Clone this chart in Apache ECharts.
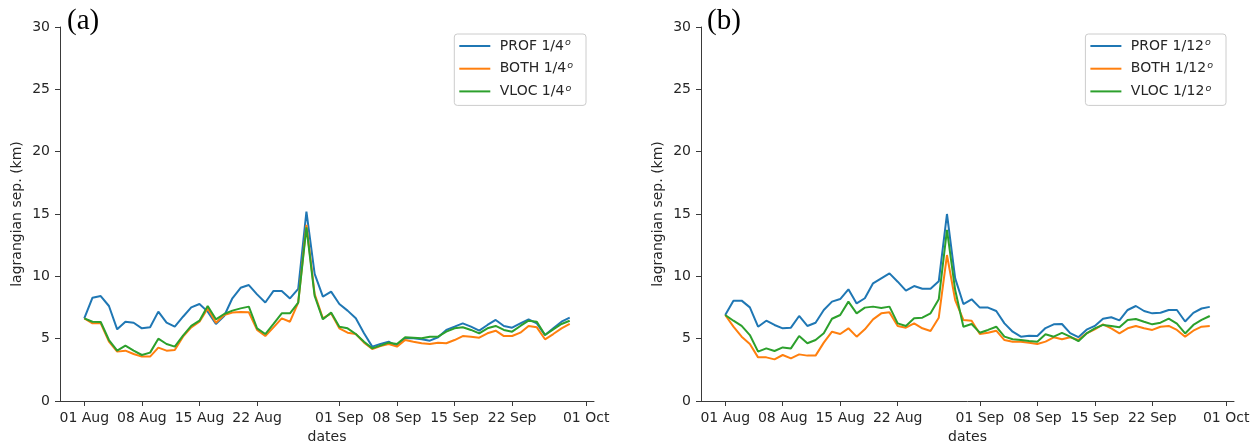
<!DOCTYPE html>
<html>
<head>
<meta charset="utf-8">
<script src="https://cdn.jsdelivr.net/npm/echarts@6/dist/echarts.min.js"></script>
<style>html,body{margin:0;padding:0;background:#fff}#c{width:1250px;height:444px}</style>
</head>
<body>
<div id="c"></div>
<script>
// ---- data ----
const startDate = Date.UTC(2019, 7, 1);   // 01 Aug
const DAY = 86400000;
const nDays = 60;                          // 01 Aug .. 29 Sep, daily
const dates = [];
for (let i = 0; i < nDays; i++) dates.push(startDate + i * DAY);

const tickLabels = ['01 Aug', '08 Aug', '15 Aug', '22 Aug', '01 Sep', '08 Sep', '15 Sep', '22 Sep', '01 Oct'];
const tickDates = [Date.UTC(2019,7,1), Date.UTC(2019,7,8), Date.UTC(2019,7,15), Date.UTC(2019,7,22),
                   Date.UTC(2019,8,1), Date.UTC(2019,8,8), Date.UTC(2019,8,15), Date.UTC(2019,8,22),
                   Date.UTC(2019,9,1)];
const yTicks = [0, 5, 10, 15, 20, 25, 30];

const namesA = ['PROF 1/4', 'BOTH 1/4', 'VLOC 1/4'];
const namesB = ['PROF 1/12', 'BOTH 1/12', 'VLOC 1/12'];

const profA = [6.63,8.29,8.42,7.62,5.75,6.36,6.28,5.83,5.91,7.17,6.28,5.96,6.76,7.51,7.78,7.17,6.18,6.82,8.24,9.08,
               9.30,8.55,7.90,8.83,8.83,8.23,9.00,15.19,10.19,8.37,8.77,7.78,7.25,6.63,5.43,4.36,4.57,4.76,4.41,5.03,
               5.03,4.95,4.84,5.11,5.70,5.96,6.23,5.96,5.64,6.10,6.50,6.02,5.88,6.23,6.55,6.23,5.29,5.83,6.36,6.68];
const bothA = [6.63,6.23,6.23,4.76,3.96,4.04,3.77,3.56,3.56,4.28,4.04,4.09,5.16,5.91,6.36,7.43,6.28,6.90,7.09,7.14,
               7.11,5.70,5.21,5.91,6.63,6.36,7.89,14.12,8.58,6.63,7.03,5.83,5.48,5.37,4.68,4.17,4.41,4.57,4.36,4.90,
               4.76,4.63,4.57,4.68,4.63,4.89,5.21,5.16,5.08,5.43,5.64,5.21,5.21,5.48,6.02,5.91,4.95,5.37,5.83,6.18];
const vlocA = [6.63,6.36,6.34,4.89,4.04,4.44,4.04,3.69,3.88,5.00,4.57,4.36,5.24,6.02,6.44,7.62,6.55,6.98,7.25,7.43,
               7.57,5.83,5.37,6.18,7.03,7.03,7.89,13.93,8.42,6.55,7.09,5.96,5.83,5.37,4.76,4.22,4.44,4.68,4.57,5.11,
               5.08,5.03,5.16,5.16,5.56,5.83,5.91,5.70,5.43,5.83,6.02,5.70,5.56,6.02,6.44,6.36,5.29,5.75,6.18,6.44];

const profB = [6.90,8.05,8.05,7.51,5.96,6.44,6.10,5.83,5.88,6.82,6.02,6.28,7.30,7.97,8.18,8.96,7.83,8.24,9.44,9.84,
               10.24,9.57,8.85,9.22,9.01,9.01,9.60,15.00,9.84,7.78,8.16,7.49,7.49,7.22,6.23,5.56,5.16,5.24,5.21,5.85,
               6.15,6.18,5.45,5.12,5.72,6.02,6.60,6.72,6.47,7.30,7.62,7.22,7.03,7.08,7.30,7.30,6.38,7.07,7.42,7.55];
const bothB = [6.90,5.96,5.16,4.57,3.50,3.50,3.34,3.69,3.42,3.74,3.64,3.64,4.68,5.56,5.37,5.83,5.16,5.75,6.55,7.03,
               7.11,6.02,5.88,6.23,5.83,5.61,6.68,11.71,8.10,6.50,6.44,5.37,5.48,5.64,4.89,4.76,4.76,4.68,4.57,4.76,
               5.11,4.95,5.11,4.89,5.43,5.75,6.15,5.83,5.43,5.83,6.02,5.83,5.70,5.96,6.02,5.70,5.16,5.64,5.96,6.02];
const vlocB = [6.90,6.44,6.02,5.29,3.96,4.22,4.01,4.30,4.22,5.21,4.63,4.89,5.43,6.60,6.90,7.97,7.03,7.49,7.57,7.46,
               7.57,6.23,6.02,6.63,6.68,7.03,8.16,13.72,8.90,5.96,6.18,5.48,5.70,5.96,5.16,4.95,4.89,4.82,4.76,5.35,
               5.16,5.46,5.16,4.80,5.42,5.82,6.10,6.02,5.91,6.50,6.58,6.36,6.15,6.28,6.60,6.20,5.42,6.10,6.50,6.82];

const colors = ['#1f77b4', '#ff7f0e', '#2ca02c'];

// ---- chart ----
const FONT = 'DejaVu Sans';
const TXT = '#262626';
const AX = '#3a3a3a';
const chart = echarts.init(document.getElementById('c'), null, {renderer: 'canvas'});

// x is measured in days since 01 Aug (a linear date scale)
const toDay = t => (t - startDate) / DAY;
const tickDays = tickDates.map(toDay);
function pairs(vals) { return vals.map((v, i) => [toDay(dates[i]), v]); }

function xAxis(gi) {
  return {
    type: 'value', gridIndex: gi,
    min: -2.95, max: toDay(dates[nDays - 1]) + 2.95,
    name: 'dates', nameLocation: 'middle', nameGap: 29,
    nameTextStyle: {fontFamily: FONT, fontSize: 14, color: TXT},
    axisLine: {show: true, onZero: false, lineStyle: {color: AX, width: 1}},
    axisTick: {show: true, inside: false, length: 5, lineStyle: {color: AX, width: 1}, customValues: tickDays},
    axisLabel: {
      show: true, margin: 10, fontFamily: FONT, fontSize: 14, color: TXT,
      customValues: tickDays, showMinLabel: true, showMaxLabel: true,
      formatter: function (v) {
        let best = 0, bd = Infinity;
        tickDays.forEach((t, i) => { const d = Math.abs(t - v); if (d < bd) { bd = d; best = i; } });
        return tickLabels[best];
      }
    },
    splitLine: {show: false}, minorTick: {show: false}
  };
}
function yAxis(gi) {
  return {
    type: 'value', gridIndex: gi, min: yTicks[0], max: yTicks[yTicks.length - 1], interval: 5,
    name: 'lagrangian sep. (km)', nameLocation: 'middle', nameGap: 36, nameRotate: 90,
    nameTextStyle: {fontFamily: FONT, fontSize: 14, color: TXT},
    axisLine: {show: true, onZero: false, lineStyle: {color: AX, width: 1}},
    axisTick: {show: true, inside: false, length: 5, lineStyle: {color: AX, width: 1}},
    axisLabel: {margin: 10, fontFamily: FONT, fontSize: 14, color: TXT},
    splitLine: {show: false}
  };
}
function mkSeries(names, arrs, gi) {
  return names.map((n, k) => ({
    name: n, type: 'line', xAxisIndex: gi, yAxisIndex: gi,
    data: pairs(arrs[k]), showSymbol: false, symbol: 'none',
    lineStyle: {color: colors[k], width: 2}, itemStyle: {color: colors[k]},
    z: 2 + k, animation: false
  }));
}
function legend(names, right) {
  return {
    data: names, orient: 'vertical', right: right, top: 34,
    itemWidth: 31, itemHeight: 2, icon: 'rect', itemGap: 5.7,
    padding: [4, 13, 5, 5],
    borderColor: '#cccccc', borderWidth: 1, borderRadius: 3, backgroundColor: '#ffffff',
    formatter: n => ' ' + n + '{sup|o}',
    textStyle: {
      fontFamily: FONT, fontSize: 14, color: TXT, lineHeight: 16,
      rich: {sup: {fontFamily: FONT, fontSize: 9.5, fontStyle: 'italic', color: TXT, verticalAlign: 'top', lineHeight: 16, padding: [0, 0, 7, 1]}}
    }
  };
}

chart.setOption({
  animation: false,
  backgroundColor: '#ffffff',
  grid: [
    {left: 60, top: 27, width: 534, height: 374, containLabel: false, outerBoundsMode: 'none'},
    {left: 701, top: 27, width: 533, height: 374, containLabel: false, outerBoundsMode: 'none'}
  ],
  xAxis: [xAxis(0), xAxis(1)],
  yAxis: [yAxis(0), yAxis(1)],
  legend: [legend(namesA, 664), legend(namesB, 24)],
  series: [...mkSeries(namesA, [profA, bothA, vlocA], 0), ...mkSeries(namesB, [profB, bothB, vlocB], 1)],
  graphic: [
    {type: 'text', left: 67, top: 7, style: {text: '(a)', font: '29px "Liberation Serif"', fill: '#000'}},
    {type: 'text', left: 707, top: 7, style: {text: '(b)', font: '29px "Liberation Serif"', fill: '#000'}}
  ]
});
</script>
</body>
</html>
